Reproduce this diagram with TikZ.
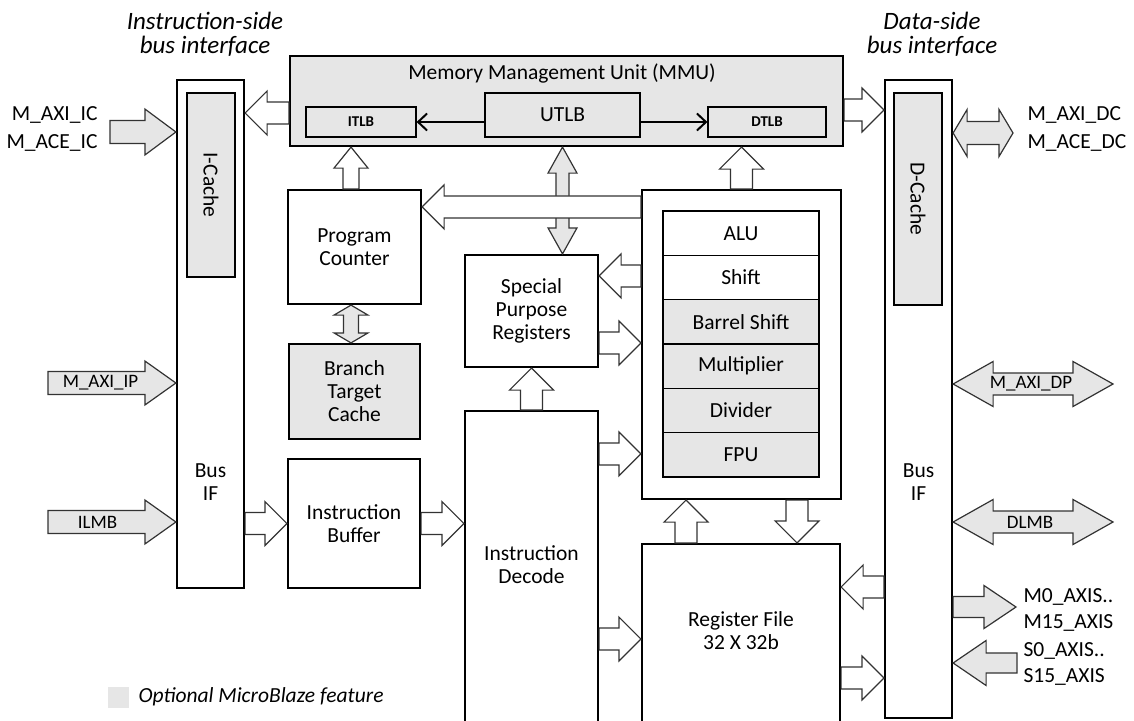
\documentclass[tikz,border=0pt]{standalone}
\usepackage{fontspec}
\setmainfont{Carlito}
\usetikzlibrary{arrows.meta,calc}
\definecolor{optgray}{RGB}{230,230,230}

\newcommand\arsh{11}
\newcommand\arhw{22}
\newcommand\arhl{22}
\tikzset{
  arrow size/.code args={#1/#2/#3}{\def\arsh{#1}\def\arhw{#2}\def\arhl{#3}},
  blockarrow/.style={draw=black!80, line width=1.2pt, fill=white, line join=miter}
}
\newcommand\harrow[3][]{%
  \draw[blockarrow,#1] let \p1=#2, \p2=#3, \n1={sign(\x2-\x1)*\arhl} in
    (\x1,\y1+\arsh) -- (\x2-\n1,\y1+\arsh) -- (\x2-\n1,\y1+\arhw) -- (\x2,\y1)
    -- (\x2-\n1,\y1-\arhw) -- (\x2-\n1,\y1-\arsh) -- (\x1,\y1-\arsh) -- cycle;}
\newcommand\varrow[3][]{%
  \draw[blockarrow,#1] let \p1=#2, \p2=#3, \n1={sign(\y2-\y1)*\arhl} in
    (\x1+\arsh,\y1) -- (\x1+\arsh,\y2-\n1) -- (\x1+\arhw,\y2-\n1) -- (\x1,\y2)
    -- (\x1-\arhw,\y2-\n1) -- (\x1-\arsh,\y2-\n1) -- (\x1-\arsh,\y1) -- cycle;}
\newcommand\hdarrow[3][]{%
  \draw[blockarrow,#1] let \p1=#2, \p2=#3, \n1={sign(\x2-\x1)*\arhl} in
    (\x1,\y1) -- (\x1+\n1,\y1+\arhw) -- (\x1+\n1,\y1+\arsh) -- (\x2-\n1,\y1+\arsh)
    -- (\x2-\n1,\y1+\arhw) -- (\x2,\y1) -- (\x2-\n1,\y1-\arhw) -- (\x2-\n1,\y1-\arsh)
    -- (\x1+\n1,\y1-\arsh) -- (\x1+\n1,\y1-\arhw) -- cycle;}
\newcommand\vdarrow[3][]{%
  \draw[blockarrow,#1] let \p1=#2, \p2=#3, \n1={sign(\y2-\y1)*\arhl} in
    (\x1,\y1) -- (\x1+\arhw,\y1+\n1) -- (\x1+\arsh,\y1+\n1) -- (\x1+\arsh,\y2-\n1)
    -- (\x1+\arhw,\y2-\n1) -- (\x1,\y2) -- (\x1-\arhw,\y2-\n1) -- (\x1-\arsh,\y2-\n1)
    -- (\x1-\arsh,\y1+\n1) -- (\x1-\arhw,\y1+\n1) -- cycle;}

\begin{document}
\begin{tikzpicture}[x=1pt, y=-1pt, font=\fontsize{21.5}{23}\selectfont,
  part/.style 2 args={draw, line width=2.2pt, fill=white, minimum width=#1,
               minimum height=#2, inner sep=0pt, align=center},
  unit/.style 2 args={draw, line width=1.2pt, fill=optgray, minimum width=#1,
               minimum height=#2, inner sep=0pt, align=center},
  tlb/.style={font=\fontsize{15}{15}\selectfont\bfseries},
  busname/.style={font=\fontsize{19}{19}\selectfont},
  portname/.style={font=\fontsize{21.5}{28}\selectfont},
  side/.style={font=\fontsize{25}{24}\selectfont\itshape, align=center},
  tlbline/.style={line width=2pt, -{Straight Barb[length=9pt, width=17pt]}}
]
  \useasboundingbox (0,0) rectangle (1134,720);

  \node[side] (ititle) at (205,34) {Instruction-side\\bus interface};
  \node[side] (dtitle) at (932,34) {Data-side\\bus interface};

  \node[part={67pt}{508pt}]  (ibus)   at (210.5,334) {};
  \node[unit={184pt}{48pt}, rotate=-90] (icache) at (211,185) {I-Cache};
  \node[align=center]        (ibustxt) at (210.5,482) {Bus\\IF};

  \node[part={553pt}{90pt}, fill=optgray] (mmu) at (566.5,101) {};
  \node                      (mmutxt) at (562,73) {Memory Management Unit (MMU)};
  \node[unit={110pt}{30pt}, tlb] (itlb) at (361,122) {ITLB};
  \node[unit={155pt}{44pt}]  (utlb)   at (562.5,115) {UTLB};
  \node[unit={118pt}{30pt}, tlb] (dtlb) at (767,122) {DTLB};
  \draw[tlbline] (utlb.west |- itlb.east) -- (itlb.east);
  \draw[tlbline] (utlb.east |- dtlb.west) -- (dtlb.west);

  \node[part={133pt}{114pt}] (pc)  at (354.5,247)   {Program\\Counter};
  \node[part={131pt}{95pt}, fill=optgray] (btc) at (354.5,391.5) {Branch\\Target\\Cache};
  \node[part={132pt}{129pt}] (ib)  at (354,523.5)   {Instruction\\Buffer};

  \node[part={133pt}{112pt}] (spr) at (531.5,311)   {Special\\Purpose\\Registers};
  \node[part={133pt}{320pt}] (id)  at (531.5,571)   {};
  \node[align=center]        (idtxt) at (531.5,564.5) {Instruction\\Decode};

  \node[part={199pt}{309pt}] (exu) at (741.5,344.5) {};
  \node[unit={156pt}{44.33pt}, fill=white] (alu)    at (741,233.2) {ALU};
  \node[unit={156pt}{44.33pt}, fill=white] (shift)  at (741,277.5) {Shift};
  \node[unit={156pt}{44.33pt}]             (bshift) at (741,321.8) {Barrel Shift};
  \node[unit={156pt}{44.33pt}]             (mul)    at (741,366.2) {Multiplier};
  \node[unit={156pt}{44.33pt}]             (div)    at (741,410.5) {Divider};
  \node[unit={156pt}{44.33pt}]             (fpu)    at (741,454.8) {FPU};

  \node[part={198pt}{190pt}] (rf)  at (741,639) {};
  \node[align=center]        (rftxt) at (741,630.5) {Register File\\32 X 32b};

  \node[part={67pt}{638pt}]  (dbus)   at (918.5,399) {};
  \node[unit={212pt}{48pt}, rotate=-90] (dcache) at (918,199) {D-Cache};
  \node[align=center]        (dbustxt) at (918.5,482) {Bus\\IF};

  \coordinate (icsrc)    at (110,132);
  \coordinate (ipsrc)    at (48,383);
  \coordinate (ilmbsrc)  at (48,522);
  \coordinate (dcend)    at (1013,133);
  \coordinate (dpend)    at (1113,384);
  \coordinate (dlmbend)  at (1113,522);
  \coordinate (maxisend) at (1016,607);
  \coordinate (saxissrc) at (1017,663);

  \harrow[fill=optgray, arrow size=11.5/23/31]{(icsrc)}{(ibus.west)}
  \harrow[fill=optgray, arrow size=11.5/22/31]{(ipsrc)}{(ibus.west)}
  \harrow[fill=optgray, arrow size=11.5/22/31]{(ilmbsrc)}{(ibus.west)}
  \harrow{([yshift=-12pt]mmu.west)}{(ibus.east)}
  \harrow{(ibus.east |- ib.west)}{(ib.west)}
  \harrow{(ib.east)}{(id.west)}
  \varrow[arrow size=8/17/21]{([xshift=-3.5pt]pc.north)}{(mmu.south)}
  \vdarrow[fill=optgray, arrow size=7.5/17/10]{([xshift=-3.5pt]pc.south)}{(btc.north)}
  \vdarrow[fill=optgray, arrow size=6.5/14.5/26]{(mmu.south -| utlb.south)}{(spr.north)}
  \harrow{([yshift=-18pt]exu.north west)}{(pc.east)}
  \harrow{([yshift=-87pt]exu.north west)}{(spr.east)}
  \harrow{([yshift=-32pt]spr.east)}{(exu.west)}
  \varrow{(id.north)}{(spr.south)}
  \harrow{([yshift=-44pt]id.north east)}{(exu.west)}
  \varrow{(exu.north)}{(mmu.south)}
  \varrow{([xshift=55.5pt]exu.south)}{(rf.north)}
  \varrow{([xshift=-55pt]rf.north)}{(exu.south)}
  \harrow{(id.east |- rf.west)}{(rf.west)}
  \harrow{([yshift=-188pt]dbus.west)}{(rf.east)}
  \harrow{([yshift=-39pt]rf.east)}{(dbus.west)}
  \harrow{([yshift=-9pt]mmu.east)}{(dbus.west)}
  \hdarrow[fill=optgray, arrow size=11.5/23.5/14]{(dbus.east |- dcend)}{(dcend)}
  \hdarrow[fill=optgray, arrow size=11/22.5/40]{(dbus.east |- dpend)}{(dpend)}
  \hdarrow[fill=optgray, arrow size=11/22.5/40]{(dbus.east |- dlmbend)}{(dlmbend)}
  \harrow[fill=optgray, arrow size=10.5/21.5/32]{(dbus.east |- maxisend)}{(maxisend)}
  \harrow[fill=optgray, arrow size=10/22.5/33]{(saxissrc)}{(dbus.east)}

  \node[portname, anchor=east, align=right] (iclbl) at (101,129) {M\_AXI\_IC\\M\_ACE\_IC};
  \node[busname] (iplbl)   at (100.5,383) {M\_AXI\_IP};
  \node[busname] (ilmblbl) at (97.5,522)  {ILMB};
  \node[portname, anchor=west, align=left] (dclbl) at (1024,129) {M\_AXI\_DC\\M\_ACE\_DC};
  \node[busname] (dplbl)   at (1031,384)  {M\_AXI\_DP};
  \node[busname] (dlmblbl) at (1030,522)  {DLMB};
  \node[portname, anchor=west, align=left, font=\fontsize{21.5}{26.5}\selectfont] (mlbl) at (1020,610) {M0\_AXIS..\\M15\_AXIS};
  \node[portname, anchor=west, align=left, font=\fontsize{21.5}{26.5}\selectfont] (slbl) at (1020,664) {S0\_AXIS..\\S15\_AXIS};

  \node[fill=optgray, minimum size=21pt, inner sep=0pt] (legbox) at (118.5,697) {};
  \node[anchor=west, font=\fontsize{21.5}{23}\selectfont\itshape] (legtxt) at (135,697) {Optional MicroBlaze feature};
\end{tikzpicture}
\end{document}
